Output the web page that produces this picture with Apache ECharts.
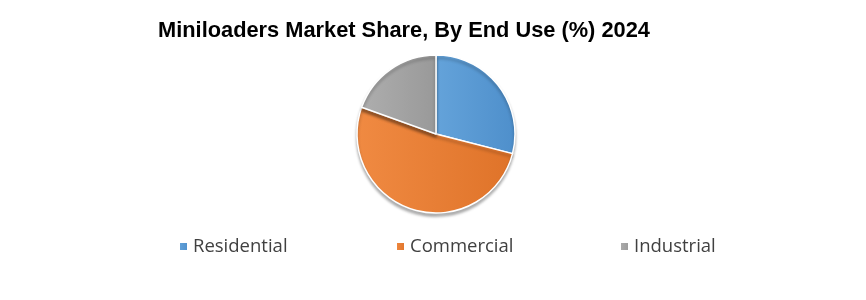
<!DOCTYPE html>
<html><head><meta charset="utf-8">
<script src="https://cdn.jsdelivr.net/npm/echarts@6/dist/echarts.min.js"></script>
<style>html,body{margin:0;padding:0;background:#fff}#c{width:866px;height:300px}</style>
</head><body><div id="c"></div>
<script>
const titleText = 'Miniloaders Market Share, By End Use (%) 2024';
const categories = ['Residential', 'Commercial', 'Industrial'];
const values = [29, 51.5, 19.5];
const colors = [['#64A3DA', '#4E8FCB'], ['#F08A42', '#DF7329'], ['#AEAEAE', '#999999']];
const legendLeft = [173, 390, 614];

const chart = echarts.init(document.getElementById('c'));
chart.setOption({
  animation: false,
  title: { text: titleText, left: 399, textAlign: 'center', top: 15,
    textStyle: { fontFamily: 'Liberation Sans', fontWeight: 'bold', fontSize: 21.8, color: '#000' } },
  legend: categories.map((c, i) => ({
    data: [c], left: legendLeft[i], top: 232, itemWidth: 9, itemHeight: 9, icon: 'rect', itemGap: 6,
    textStyle: { fontFamily: 'Open Sans', fontSize: 18.5, color: '#404040' }
  })),
  series: [{
    type: 'pie', center: [436, 134], radius: 79, startAngle: 90, clockwise: true,
    label: { show: false }, labelLine: { show: false },
    itemStyle: { borderColor: '#fff', borderWidth: 1.5, shadowBlur: 3, shadowOffsetY: 3, shadowColor: 'rgba(0,0,0,0.3)' },
    data: categories.map((c, i) => ({ name: c, value: values[i],
      itemStyle: { color: new echarts.graphic.LinearGradient(0, 0, 1, 0, [{offset: 0, color: colors[i][0]}, {offset: 1, color: colors[i][1]}]) } }))
  }]
});
</script></body></html>
